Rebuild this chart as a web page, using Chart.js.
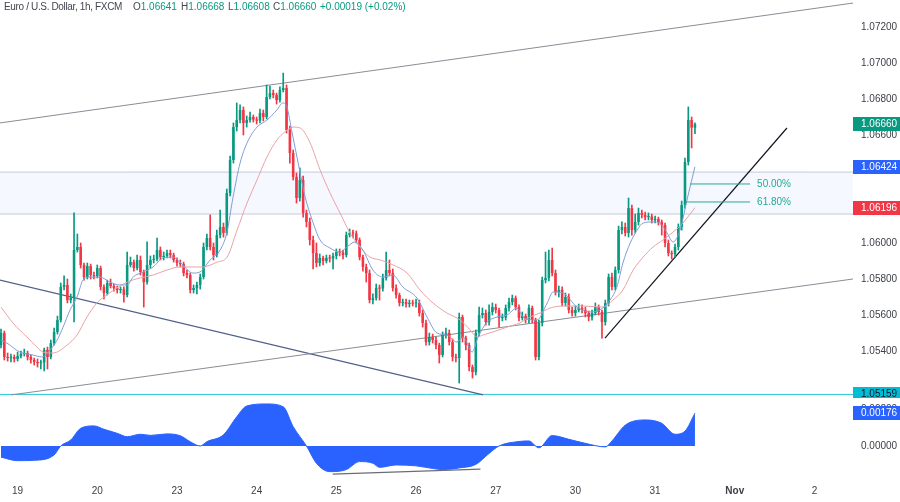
<!DOCTYPE html>
<html><head><meta charset="utf-8">
<script src="https://cdn.jsdelivr.net/npm/chart.js@4.4.0/dist/chart.umd.min.js"></script>
<style>
html,body{margin:0;padding:0;background:#fff;}
#wrap{position:relative;width:900px;height:502px;overflow:hidden;font-family:"Liberation Sans",Arial,sans-serif;}
#main{position:absolute;left:0;top:0;}
#osc{position:absolute;left:0;top:398px;}
#title{position:absolute;left:0;top:0;width:420px;height:14px;font-size:10px;line-height:13px;color:#434651;white-space:nowrap;}
#title span{position:absolute;top:0;}
#title b{font-weight:normal;color:#089981;}
</style></head><body>
<div id="wrap">
<canvas id="main" width="900" height="398"></canvas>
<canvas id="osc" width="900" height="104"></canvas>
<div id="title">
<span style="left:4px;letter-spacing:-0.35px">Euro / U.S. Dollar, 1h, FXCM</span>
<span style="left:133px">O<b>1.06641</b></span>
<span style="left:181px">H<b>1.06668</b></span>
<span style="left:228px">L<b>1.06608</b></span>
<span style="left:273px">C<b>1.06660</b></span>
<span style="left:320px"><b>+0.00019 (+0.02%)</b></span>
</div>
</div>
<script>
// ---------- DATA ----------
const dayTickIdx = [5,29,53,77,101,125,149,173,197,221,245];
const dayTickLabels = ['19','20','23','24','25','26','27','30','31','Nov','2'];
const priceTicks = [1.054,1.056,1.058,1.060,1.062,1.064,1.066,1.068,1.070,1.072];
const oscTicks = [0, 0.002];

const opens = [1.05433,1.05500,1.05367,1.05361,1.05367,1.05356,1.05372,1.05383,1.05389,1.05367,
1.05350,1.05339,1.05333,1.05336,1.05406,1.05367,1.05444,1.05506,1.05572,1.05756,
1.05767,1.05683,1.05694,1.05961,1.05978,1.05878,1.05811,1.05872,1.05822,1.05817,
1.05861,1.05756,1.05722,1.05778,1.05761,1.05750,1.05739,1.05742,1.05711,1.05878,
1.05894,1.05861,1.05906,1.05839,1.05783,1.05878,1.05906,1.05911,1.05961,1.05922,
1.05928,1.05944,1.05933,1.05906,1.05889,1.05883,1.05833,1.05822,1.05739,1.05750,
1.05767,1.05811,1.05978,1.06028,1.05978,1.05933,1.06044,1.06089,1.06056,1.06278,
1.06461,1.06644,1.06683,1.06739,1.06667,1.06683,1.06700,1.06686,1.06680,1.06722,
1.06700,1.06811,1.06833,1.06822,1.06794,1.06850,1.06861,1.06628,1.06500,1.06367,
1.06250,1.06350,1.06167,1.06117,1.06017,1.05944,1.05889,1.05917,1.05900,1.05917,
1.05914,1.05928,1.05950,1.05947,1.05933,1.06044,1.06056,1.06053,1.06017,1.05922,
1.05867,1.05833,1.05683,1.05694,1.05750,1.05747,1.05806,1.05850,1.05833,1.05750,
1.05711,1.05667,1.05672,1.05661,1.05667,1.05664,1.05667,1.05611,1.05556,1.05450,
1.05478,1.05461,1.05433,1.05378,1.05489,1.05500,1.05450,1.05367,1.05361,1.05589,
1.05472,1.05433,1.05311,1.05283,1.05500,1.05600,1.05611,1.05561,1.05617,1.05644,
1.05628,1.05583,1.05586,1.05639,1.05672,1.05694,1.05644,1.05583,1.05594,1.05572,
1.05639,1.05572,1.05367,1.05556,1.05794,1.05806,1.05906,1.05833,1.05728,1.05739,
1.05667,1.05700,1.05628,1.05611,1.05628,1.05639,1.05628,1.05611,1.05589,1.05611,
1.05644,1.05617,1.05561,1.05667,1.05811,1.05756,1.05850,1.06072,1.06089,1.06056,
1.06194,1.06072,1.06117,1.06167,1.06156,1.06144,1.06147,1.06128,1.06133,1.06117,
1.06100,1.06000,1.05944,1.05939,1.05978,1.06089,1.06211,1.06450,1.06683,1.06641];

const highs = [1.05522,1.05511,1.05389,1.05383,1.05378,1.05394,1.05400,1.05411,1.05400,1.05378,
1.05361,1.05356,1.05350,1.05417,1.05422,1.05461,1.05528,1.05594,1.05778,1.05817,
1.05800,1.05717,1.06167,1.06050,1.06000,1.05889,1.05889,1.05883,1.05839,1.05878,
1.05872,1.05767,1.05794,1.05800,1.05772,1.05761,1.05756,1.05756,1.05950,1.05922,
1.05906,1.05933,1.05928,1.05850,1.06006,1.05928,1.05933,1.06028,1.05978,1.05950,
1.05961,1.05961,1.05944,1.05917,1.05906,1.05894,1.05850,1.05833,1.05767,1.05783,
1.05828,1.06000,1.06050,1.06156,1.06000,1.06072,1.06183,1.06111,1.06300,1.06483,
1.06667,1.06778,1.06767,1.06756,1.06706,1.06728,1.06711,1.06700,1.06744,1.06739,
1.06878,1.06872,1.06850,1.06833,1.06867,1.06944,1.06878,1.06650,1.06517,1.06389,
1.06417,1.06372,1.06183,1.06139,1.06039,1.06000,1.05939,1.05928,1.05933,1.05933,
1.05944,1.05967,1.05967,1.05961,1.06061,1.06078,1.06072,1.06067,1.06028,1.05933,
1.05883,1.05850,1.05717,1.05772,1.05767,1.05828,1.05950,1.05906,1.05856,1.05767,
1.05722,1.05689,1.05689,1.05683,1.05683,1.05689,1.05683,1.05628,1.05572,1.05500,
1.05494,1.05478,1.05444,1.05506,1.05528,1.05517,1.05467,1.05383,1.05611,1.05600,
1.05483,1.05444,1.05322,1.05517,1.05644,1.05639,1.05628,1.05656,1.05667,1.05661,
1.05639,1.05606,1.05656,1.05694,1.05711,1.05706,1.05656,1.05617,1.05606,1.05656,
1.05650,1.05583,1.05572,1.05811,1.05950,1.05961,1.05972,1.05850,1.05761,1.05756,
1.05722,1.05717,1.05644,1.05650,1.05661,1.05656,1.05644,1.05622,1.05628,1.05667,
1.05656,1.05628,1.05683,1.05828,1.05833,1.05867,1.06094,1.06117,1.06111,1.06250,
1.06211,1.06161,1.06194,1.06183,1.06172,1.06167,1.06161,1.06150,1.06144,1.06128,
1.06111,1.06017,1.05956,1.05994,1.06106,1.06233,1.06472,1.06756,1.06700,1.06668];

const lows = [1.05417,1.05350,1.05344,1.05339,1.05339,1.05344,1.05361,1.05372,1.05350,1.05333,
1.05322,1.05311,1.05300,1.05289,1.05300,1.05356,1.05433,1.05494,1.05561,1.05739,
1.05667,1.05667,1.05561,1.05950,1.05861,1.05794,1.05800,1.05800,1.05800,1.05806,
1.05739,1.05689,1.05711,1.05750,1.05733,1.05722,1.05722,1.05672,1.05700,1.05867,
1.05844,1.05850,1.05822,1.05644,1.05772,1.05861,1.05889,1.05900,1.05906,1.05906,
1.05917,1.05917,1.05894,1.05872,1.05867,1.05817,1.05806,1.05722,1.05722,1.05717,
1.05744,1.05800,1.05961,1.05961,1.05906,1.05922,1.06028,1.06033,1.06044,1.06261,
1.06444,1.06622,1.06667,1.06600,1.06644,1.06672,1.06672,1.06661,1.06667,1.06678,
1.06689,1.06800,1.06806,1.06772,1.06783,1.06839,1.06611,1.06444,1.06350,1.06222,
1.06233,1.06144,1.06089,1.05989,1.05856,1.05867,1.05872,1.05878,1.05889,1.05894,
1.05856,1.05911,1.05928,1.05911,1.05922,1.06033,1.06028,1.06000,1.05906,1.05844,
1.05783,1.05667,1.05661,1.05683,1.05683,1.05733,1.05794,1.05817,1.05733,1.05694,
1.05650,1.05650,1.05644,1.05644,1.05650,1.05644,1.05594,1.05533,1.05433,1.05433,
1.05444,1.05411,1.05333,1.05367,1.05472,1.05433,1.05344,1.05339,1.05222,1.05450,
1.05406,1.05289,1.05250,1.05267,1.05483,1.05583,1.05544,1.05544,1.05600,1.05611,
1.05533,1.05567,1.05572,1.05622,1.05656,1.05628,1.05567,1.05572,1.05556,1.05556,
1.05556,1.05350,1.05350,1.05539,1.05778,1.05789,1.05817,1.05711,1.05700,1.05650,
1.05650,1.05611,1.05594,1.05594,1.05617,1.05611,1.05589,1.05567,1.05572,1.05600,
1.05600,1.05472,1.05544,1.05650,1.05739,1.05739,1.05833,1.06050,1.06039,1.06033,
1.06044,1.06056,1.06100,1.06139,1.06128,1.06128,1.06111,1.06111,1.06100,1.06044,
1.05978,1.05928,1.05911,1.05922,1.05961,1.06072,1.06194,1.06433,1.06528,1.06608];

const closes = [1.05500,1.05367,1.05361,1.05367,1.05356,1.05372,1.05383,1.05389,1.05367,1.05350,
1.05339,1.05333,1.05336,1.05406,1.05367,1.05444,1.05506,1.05572,1.05756,1.05767,
1.05683,1.05694,1.05961,1.05978,1.05878,1.05811,1.05872,1.05822,1.05817,1.05861,
1.05756,1.05722,1.05778,1.05761,1.05750,1.05739,1.05742,1.05711,1.05878,1.05894,
1.05861,1.05906,1.05839,1.05783,1.05878,1.05906,1.05911,1.05961,1.05922,1.05928,
1.05944,1.05933,1.05906,1.05889,1.05883,1.05833,1.05822,1.05739,1.05750,1.05767,
1.05811,1.05978,1.06028,1.05978,1.05933,1.06044,1.06089,1.06056,1.06278,1.06461,
1.06644,1.06683,1.06739,1.06667,1.06683,1.06700,1.06686,1.06680,1.06722,1.06700,
1.06811,1.06833,1.06822,1.06794,1.06850,1.06861,1.06628,1.06500,1.06367,1.06250,
1.06350,1.06167,1.06117,1.06017,1.05944,1.05889,1.05917,1.05900,1.05917,1.05914,
1.05928,1.05950,1.05947,1.05933,1.06044,1.06056,1.06053,1.06017,1.05922,1.05867,
1.05833,1.05683,1.05694,1.05750,1.05747,1.05806,1.05850,1.05833,1.05750,1.05711,
1.05667,1.05672,1.05661,1.05667,1.05664,1.05667,1.05611,1.05556,1.05450,1.05478,
1.05461,1.05433,1.05378,1.05489,1.05500,1.05450,1.05367,1.05361,1.05589,1.05472,
1.05433,1.05311,1.05283,1.05500,1.05600,1.05611,1.05561,1.05617,1.05644,1.05628,
1.05583,1.05586,1.05639,1.05672,1.05694,1.05644,1.05583,1.05594,1.05572,1.05639,
1.05572,1.05367,1.05556,1.05794,1.05806,1.05906,1.05833,1.05728,1.05739,1.05667,
1.05700,1.05628,1.05611,1.05628,1.05639,1.05628,1.05611,1.05589,1.05611,1.05644,
1.05617,1.05561,1.05667,1.05811,1.05756,1.05850,1.06072,1.06089,1.06056,1.06194,
1.06072,1.06117,1.06167,1.06156,1.06144,1.06147,1.06128,1.06133,1.06117,1.06100,
1.06000,1.05944,1.05939,1.05978,1.06089,1.06211,1.06450,1.06683,1.06641,1.06660];

// Moving averages (candle index, price)
const fastIdx = [0,1.8,5.7,9.6,12.3,14.8,16.9,18.7,20.8,22.9,24.7,26.8,29.8,32.8,35.8,38,39.8,42.8,45.8,48.8,51.8,53.9,57.8,59.9,63,66,68,69.9,72,74.1,77.1,80.1,83.1,84.9,86.1,87.7,89.5,91.6,93.7,96.1,99.1,102.1,104.2,106.6,109,112,115,118,121,125.3,128.3,131.3,134.3,137.3,139.2,141.9,143.7,146.4,149.4,152.4,155.4,157.2,161.4,164.5,166.3,169.3,173.5,177.4,180.4,183.4,185.5,187.3,189.5,191.6,193.4,196.4,198.5,200.6,202.4,204.5,206.6,209];
const fastVal = [1.05461,1.05444,1.05394,1.05378,1.05367,1.05406,1.05461,1.05533,1.05628,1.05700,1.05794,1.05811,1.05811,1.05783,1.05767,1.05767,1.05811,1.05839,1.05867,1.05917,1.05922,1.05894,1.05833,1.05839,1.05906,1.05961,1.06056,1.06256,1.06444,1.06556,1.06644,1.06683,1.06739,1.06778,1.06756,1.06611,1.06444,1.06256,1.06128,1.06017,1.05972,1.05950,1.05978,1.06006,1.05961,1.05850,1.05811,1.05822,1.05756,1.05694,1.05589,1.05500,1.05489,1.05450,1.05478,1.05394,1.05478,1.05561,1.05589,1.05600,1.05639,1.05589,1.05572,1.05667,1.05728,1.05722,1.05644,1.05617,1.05628,1.05683,1.05756,1.05889,1.06000,1.06072,1.06111,1.06117,1.06111,1.06056,1.06006,1.06072,1.06239,1.06424];
const slowIdx = [0,3.6,7.8,10.8,12.7,15.7,19.9,22.9,25.9,28.9,31.9,34.9,38,41.9,45.8,50,53.9,56.9,60.8,65.1,68.1,71.1,74.1,77.1,80.1,83.1,85.5,88,90.1,93.1,96.1,99.1,102.1,105.1,108.1,111.1,114.2,118.1,122.3,126.2,130.1,134.3,138.3,141.3,143.4,145.2,148.2,152.4,156.3,159.3,162.3,165.4,169.3,175.3,181.3,184.3,187.3,190.4,193.4,196.4,199.4,202.4,204.5,206.6,209];
const slowVal = [1.05644,1.05556,1.05478,1.05422,1.05394,1.05389,1.05433,1.05489,1.05589,1.05667,1.05711,1.05750,1.05783,1.05806,1.05822,1.05850,1.05867,1.05867,1.05867,1.05894,1.05922,1.06072,1.06222,1.06350,1.06478,1.06572,1.06617,1.06644,1.06639,1.06556,1.06406,1.06278,1.06167,1.06056,1.05978,1.05922,1.05906,1.05878,1.05833,1.05739,1.05667,1.05611,1.05572,1.05517,1.05478,1.05489,1.05506,1.05533,1.05556,1.05589,1.05611,1.05639,1.05650,1.05650,1.05644,1.05683,1.05739,1.05850,1.05922,1.05978,1.06017,1.06061,1.06094,1.06139,1.06196];

// Oscillator (candle index, value)
const oscIdx = [0,5,10,16,18,21,24,28,31,35,38,42,45,50,54,57,60,62,67,71,74,80,85,88,92,95,99,104,108,112,114,119,125,130,133,138,143,147,150,156,159,162,166,171,176,182,184,188,194,199,203,206,209];
const oscVal = [-0.0006,-0.00079,-0.00077,-0.00048,0,0.00032,0.00095,0.00108,0.0009,0.00068,0.0005,0.00063,0.00057,0.00065,0.00055,0.00023,0,0.00023,0.0006,0.00157,0.00215,0.00226,0.00211,0.00104,0,-0.00093,-0.00138,-0.00127,-0.00084,-0.00093,-0.00115,-0.00102,-0.00107,-0.00121,-0.00127,-0.00118,-0.00099,-0.0004,0,0.00024,0.00027,-0.0001,0.00056,0.00036,0.00014,-0.00005,0.00027,0.00112,0.0014,0.00122,0.00063,0.0008,0.00176];

// Drawings (candle index, price)
const zoneTop = 1.06394, zoneBottom = 1.06161;
const supportLevel = 1.05159;
const fibLevels = [1.06328, 1.06228];
const fibLabels = ['50.00%', '61.80%'];
const fibStart = [207.5, 206.3];
const fibEnd = 225.6;
const upperChannel = [[-0.3, 1.06667], [256.6, 1.07333]];
const lowerChannel = [[3, 1.05156], [256.6, 1.05800]];
const descLine = [[-0.3, 1.05794], [145.2, 1.05156]];
const riseLine = [[181.9, 1.05472], [236.7, 1.06639]];
const oscDivergence = [[99.9, -0.00151], [144.4, -0.00125]];
const priceTags = [1.06660, 1.06424, 1.06196, 1.05159];
const oscTag = 0.00176;

// ---------- STYLE / LAYOUT ----------
const X_MIN = -0.3, X_MAX = 256.6;
const Y_MIN = 1.05139, Y_MAX = 1.0735;
const O_MIN = -0.00183, O_MAX = 0.00258;
const UP = '#089981', DOWN = '#f23645';
const FONT = '"Liberation Sans", Arial, sans-serif';
const AXIS_TXT = '#3d4048';
const tagStyles = [['#089981','#ffffff'],['#2962ff','#ffffff'],['#f23645','#ffffff'],['#00bcd4','#131722']];

const pairs = a => a.map(p => ({x: p[0], y: p[1]}));
const zip = (xs, ys) => xs.map((x, i) => ({x, y: ys[i]}));
const col = i => closes[i] >= opens[i] ? UP : DOWN;

function lineDS(data, color, width, order, extra) {
  return Object.assign({type:'line', data, borderColor: color, borderWidth: width, pointRadius: 0,
    fill: false, order, tension: 0}, extra || {});
}

function drawTag(ctx, chart, yScale, value, text, bg, fg) {
  const y = Math.round(yScale.getPixelForValue(value));
  const x0 = chart.chartArea.right;
  ctx.save();
  ctx.fillStyle = bg;
  ctx.fillRect(x0, y - 7, chart.width - x0, 14);
  ctx.fillStyle = fg;
  ctx.font = '10px ' + FONT;
  ctx.textBaseline = 'middle';
  ctx.textAlign = 'left';
  ctx.fillText(text, x0 + 8, y + 0.5);
  ctx.restore();
}

const fixY = s => { s.width = 47; s.paddingTop = 0; s.paddingBottom = 0; };

// ---------- MAIN CHART ----------
const mainOverlay = {
  id: 'mainOverlay',
  afterDraw(chart) {
    const ctx = chart.ctx, xs = chart.scales.x, ys = chart.scales.y;
    ctx.save();
    ctx.font = '10px ' + FONT;
    ctx.fillStyle = '#22ab94';
    ctx.textBaseline = 'middle';
    ctx.textAlign = 'left';
    fibLevels.forEach((lv, k) => {
      ctx.fillText(fibLabels[k], xs.getPixelForValue(fibEnd) + 7, ys.getPixelForValue(lv) + 0.5);
    });
    ctx.restore();
    priceTags.forEach((v, k) => drawTag(ctx, chart, ys, v, v.toFixed(5), tagStyles[k][0], tagStyles[k][1]));
  }
};

new Chart(document.getElementById('main'), {
  type: 'bar',
  data: {
    datasets: [
      lineDS(pairs([[X_MIN, zoneTop],[X_MAX, zoneTop]]), '#c3cad8', 1, 100,
        {fill: {value: zoneBottom}, backgroundColor: 'rgba(41,98,255,0.045)'}),
      lineDS(pairs([[X_MIN, zoneBottom],[X_MAX, zoneBottom]]), '#c3cad8', 1, 99),
      lineDS(pairs([[X_MIN, supportLevel],[X_MAX, supportLevel]]), '#26c6da', 1, 90),
      lineDS(pairs(upperChannel), '#8a8d96', 1, 85),
      lineDS(pairs(lowerChannel), '#8a8d96', 1, 85),
      lineDS(pairs(descLine), '#52618a', 1.2, 85),
      lineDS(pairs(riseLine), '#131722', 1.2, 84),
      {type:'bar', data: closes.map((c, i) => ({x: i, y: [lows[i], highs[i]]})),
        backgroundColor: closes.map((c, i) => col(i)), barThickness: 1, grouped: false, order: 50, minBarLength: 1},
      {type:'bar', data: closes.map((c, i) => ({x: i, y: [opens[i], c]})),
        backgroundColor: closes.map((c, i) => col(i)), barPercentage: 0.78, categoryPercentage: 1,
        grouped: false, order: 40, minBarLength: 1},
      lineDS(zip(fastIdx, fastVal), '#7f9dd6', 1, 30, {cubicInterpolationMode: 'monotone'}),
      lineDS(zip(slowIdx, slowVal), '#e8a3a6', 1, 30, {cubicInterpolationMode: 'monotone'}),
      lineDS(pairs([[fibStart[0], fibLevels[0]],[fibEnd, fibLevels[0]]]), '#22ab94', 1, 20),
      lineDS(pairs([[fibStart[1], fibLevels[1]],[fibEnd, fibLevels[1]]]), '#22ab94', 1, 20)
    ]
  },
  options: {
    responsive: false, animation: false, events: [],
    layout: {padding: 0},
    plugins: {legend: {display: false}, tooltip: {enabled: false}},
    scales: {
      x: {type: 'linear', min: X_MIN, max: X_MAX, offset: false, display: false},
      y: {type: 'linear', position: 'right', min: Y_MIN, max: Y_MAX,
        grid: {display: false, drawTicks: false}, border: {display: false},
        afterBuildTicks: s => { s.ticks = priceTicks.map(v => ({value: v})); },
        afterFit: fixY,
        ticks: {padding: 8, color: AXIS_TXT, font: {size: 10, family: FONT}, callback: v => v.toFixed(5)}
      }
    }
  },
  plugins: [mainOverlay]
});

// ---------- OSCILLATOR ----------
const oscOverlay = {
  id: 'oscOverlay',
  afterDraw(chart) {
    drawTag(chart.ctx, chart, chart.scales.y, oscTag, oscTag.toFixed(5), '#2962ff', '#ffffff');
  }
};

new Chart(document.getElementById('osc'), {
  type: 'line',
  data: {
    datasets: [
      lineDS(zip(oscIdx, oscVal), '#2962ff', 1, 10,
        {fill: 'origin', backgroundColor: '#2962ff', cubicInterpolationMode: 'monotone'}),
      lineDS(pairs(oscDivergence), '#6a6d78', 1.3, 5)
    ]
  },
  options: {
    responsive: false, animation: false, events: [],
    layout: {padding: 0},
    plugins: {legend: {display: false}, tooltip: {enabled: false}},
    scales: {
      x: {type: 'linear', min: X_MIN, max: X_MAX, offset: false,
        grid: {display: false, drawTicks: false}, border: {display: false},
        afterBuildTicks: s => { s.ticks = dayTickIdx.map(v => ({value: v})); },
        afterFit: s => { s.height = 22; s.paddingLeft = 0; s.paddingRight = 0; },
        ticks: {padding: 5, color: AXIS_TXT, maxRotation: 0, autoSkip: false,
          font: c => ({size: 10, family: FONT, weight: (c.tick && dayTickLabels[dayTickIdx.indexOf(c.tick.value)] === 'Nov') ? 'bold' : 'normal'}),
          callback: v => dayTickLabels[dayTickIdx.indexOf(v)]}
      },
      y: {type: 'linear', position: 'right', min: O_MIN, max: O_MAX,
        grid: {display: false, drawTicks: false}, border: {display: false},
        afterBuildTicks: s => { s.ticks = oscTicks.map(v => ({value: v})); },
        afterFit: fixY,
        ticks: {padding: 8, color: AXIS_TXT, font: {size: 10, family: FONT}, callback: v => v.toFixed(5)}
      }
    }
  },
  plugins: [oscOverlay]
});
</script>
</body></html>
